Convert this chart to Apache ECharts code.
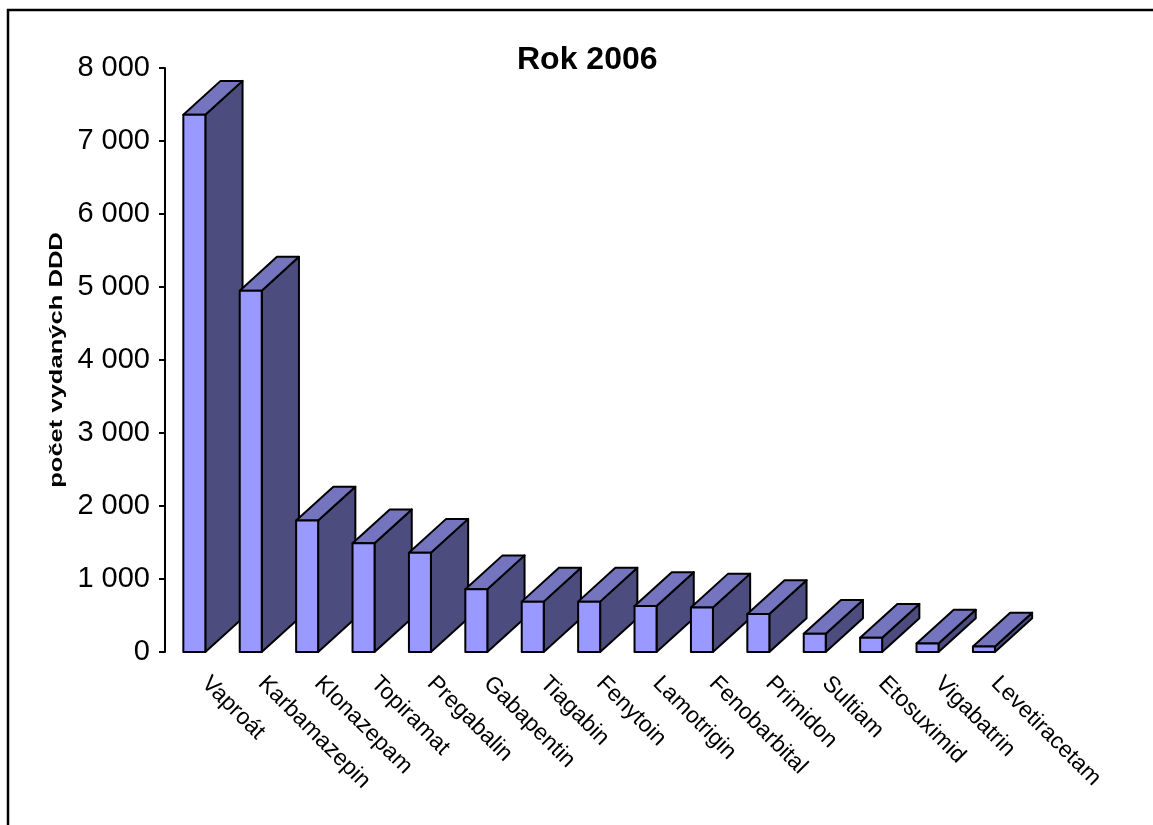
<!DOCTYPE html>
<html>
<head>
<meta charset="utf-8">
<title>Rok 2006</title>
<script src="https://cdn.jsdelivr.net/npm/echarts@6/dist/echarts.min.js"></script>
<style>
  html, body { margin: 0; padding: 0; background: #ffffff; }
  #chart { width: 1153px; height: 825px; }
</style>
</head>
<body>
<div id="chart"></div>
<script>
// Antiepileptika – počet vydaných DDD, rok 2006
const categories = ['Vaproát', 'Karbamazepin', 'Klonazepam', 'Topiramat', 'Pregabalin',
  'Gabapentin', 'Tiagabin', 'Fenytoin', 'Lamotrigin', 'Fenobarbital', 'Primidon',
  'Sultiam', 'Etosuximid', 'Vigabatrin', 'Levetiracetam'];
const dddValues = [7360, 4950, 1800, 1490, 1360, 860, 690, 690, 630, 610, 520, 250, 195, 115, 75];
const yTicks = [0, 1000, 2000, 3000, 4000, 5000, 6000, 7000, 8000];

const chart = echarts.init(document.getElementById('chart'), null, { renderer: 'canvas' });

// thousands separated by a space: 8000 -> "8 000"
function formatThousands(v) {
  return String(v).replace(/\B(?=(\d{3})+(?!\d))/g, ' ');
}

// pseudo-3D column: front face, top face and right side face
function renderColumn(params, api) {
  const idx = api.value(0);
  const top = api.coord([idx, api.value(1)]);
  const base = api.coord([idx, 0]);
  const band = api.size([1, 0])[0];
  const w = band * 0.39;
  const cx = top[0] + band * 0.02;
  const xl = cx - w / 2;
  const xr = cx + w / 2;
  const dx = band * 0.66;
  const dy = -band * 0.6;
  const stroke = { stroke: '#000000', lineWidth: 2, lineJoin: 'round' };
  return {
    type: 'group',
    children: [
      {
        type: 'polygon',
        shape: { points: [[xr, top[1]], [xr + dx, top[1] + dy], [xr + dx, base[1] + dy], [xr, base[1]]] },
        style: Object.assign({ fill: '#4c4c7e' }, stroke)
      },
      {
        type: 'polygon',
        shape: { points: [[xl, top[1]], [xl + dx, top[1] + dy], [xr + dx, top[1] + dy], [xr, top[1]]] },
        style: Object.assign({ fill: '#7474bf' }, stroke)
      },
      {
        type: 'rect',
        shape: { x: xl, y: top[1], width: w, height: base[1] - top[1] },
        style: Object.assign({ fill: '#9999ff' }, stroke)
      }
    ]
  };
}

const option = {
  animation: false,
  backgroundColor: '#ffffff',
  title: {
    text: 'Rok 2006',
    left: 512,
    top: 39,
    textStyle: { fontFamily: 'Liberation Sans, Arial, sans-serif', fontWeight: 'bold', fontSize: 32, color: '#000000' }
  },
  grid: { left: 165, top: 68, bottom: 173, width: 846 },
  xAxis: {
    type: 'category',
    data: categories,
    axisLine: { show: false },
    axisTick: { show: false },
    splitLine: { show: false },
    axisLabel: {
      interval: 0,
      rotate: -45,
      margin: 16,
      padding: [0, 0, 0, 17],
      color: '#000000',
      fontFamily: 'Liberation Sans, Arial, sans-serif',
      fontSize: 23
    }
  },
  yAxis: {
    type: 'value',
    min: yTicks[0],
    max: yTicks[yTicks.length - 1],
    interval: yTicks[1] - yTicks[0],
    axisLine: { show: true, lineStyle: { color: '#000000', width: 2 } },
    axisTick: { show: true, length: 6, lineStyle: { color: '#000000', width: 2 } },
    splitLine: { show: false },
    axisLabel: {
      margin: 15,
      color: '#000000',
      fontFamily: '"Liberation Sans Narrow", "Arial Narrow", "Liberation Sans", sans-serif',
      fontSize: 29,
      formatter: formatThousands
    }
  },
  graphic: [
    {
      type: 'rect',
      shape: { x: 8, y: 10, width: 1200, height: 900 },
      style: { fill: 'none', stroke: '#000000', lineWidth: 2.5 },
      silent: true
    },
    {
      type: 'text',
      x: 57,
      y: 360,
      rotation: Math.PI / 2,
      scaleX: 1.42,
      style: {
        text: 'počet vydaných DDD',
        fontFamily: 'Liberation Sans, Arial, sans-serif',
        fontWeight: 'bold',
        fontSize: 18,
        fill: '#000000',
        align: 'center',
        verticalAlign: 'middle'
      }
    }
  ],
  series: [
    {
      type: 'custom',
      renderItem: renderColumn,
      data: dddValues.map((v, i) => [i, v]),
      encode: { x: 0, y: 1 },
      clip: false
    }
  ]
};

chart.setOption(option);
</script>
</body>
</html>
